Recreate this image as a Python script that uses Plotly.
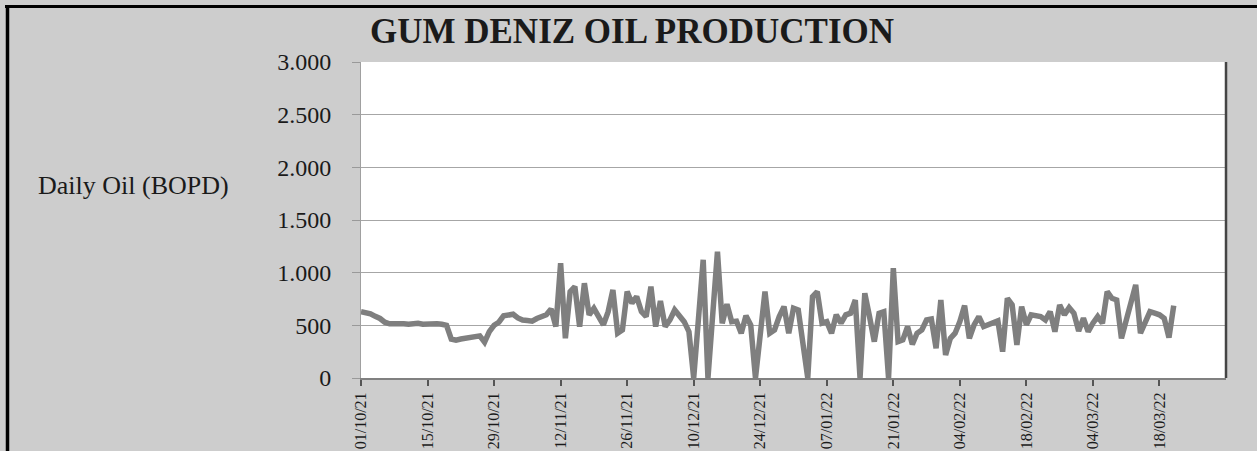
import plotly.graph_objects as go
import pandas as pd

title_text = "GUM DENIZ OIL PRODUCTION"
y_label = "Daily Oil (BOPD)"
start_date = "2021-10-01"

oil_bopd = [
    630, 625, 610, 585, 565, 530, 515, 515, 520, 515,
    510, 515, 520, 510, 515, 520, 515, 510, 500, 370,
    360, 370, 375, 385, 390, 400, 340, 440, 500, 530,
    590, 600, 605, 570, 550, 545, 540, 565, 583, 600,
    655, 488, 1090, 377, 820, 868, 488, 900, 600, 662,
    583, 504, 630, 836, 425, 456, 820, 710, 773, 630,
    583, 868, 488, 732, 488, 551, 646, 583, 535, 440,
    0, 560, 1122, 0, 600, 1200, 520, 700, 535, 540,
    425, 592, 504, 0, 410, 820, 425, 456, 583, 678,
    425, 662, 646, 320, 0, 773, 820, 520, 535, 425,
    600, 520, 600, 615, 740, 0, 805, 583, 345, 615,
    630, 0, 1043, 345, 361, 488, 320, 425, 456, 551,
    560, 282, 741, 219, 377, 425, 535, 687, 377, 504,
    583, 488, 504, 520, 542, 250, 757, 694, 314, 678,
    504, 600, 590, 583, 551, 630, 440, 694, 600, 668,
    615, 447, 567, 440, 520, 583, 520, 820, 757, 741,
    377, 535, 694, 884, 425, 520, 630, 615, 600, 567,
    383, 687,
]
dates = pd.date_range(start_date, periods=len(oil_bopd), freq="D")

tick_dates = pd.date_range("2021-10-01", "2022-03-18", freq="14D")
x_range = ["2021-10-01", "2022-04-01"]
y_ticks = [0, 500, 1000, 1500, 2000, 2500, 3000]

W, H = 1257, 451
L, R, T, B = 361, 1226, 62, 378

def px_x(px):
    return (px - L) / (R - L)

def px_y(py):
    return (B - py) / (B - T)

fig = go.Figure()
fig.add_trace(go.Scatter(
    x=dates, y=oil_bopd, mode="lines",
    line=dict(color="#7f7f7f", width=5.5),
    showlegend=False,
))

serif = "Liberation Serif, Times New Roman, serif"

fig.update_layout(
    width=W, height=H,
    margin=dict(l=L, r=W - R, t=T, b=H - B, pad=0, autoexpand=False),
    paper_bgcolor="#cdcdcd",
    plot_bgcolor="white",
    separators=",.",
    title=dict(text="<b>" + title_text + "</b>", x=632 / W, y=1 - 31 / H,
               xanchor="center", yanchor="middle", automargin=False,
               font=dict(family=serif, size=35, color="#1a1a1a")),
    xaxis=dict(
        type="date", range=x_range, automargin=False,
        tickvals=list(tick_dates), tickformat="%d/%m/%y", tickangle=-90,
        ticks="outside", ticklen=6, tickcolor="#555555", tickwidth=1.5,
        showgrid=False, showline=True, linecolor="#808080", linewidth=2,
        tickfont=dict(family=serif, size=16, color="#1a1a1a"),
        zeroline=False,
    ),
    yaxis=dict(
        range=[0, 3000], tickvals=y_ticks, tickformat=",d", automargin=False,
        ticks="outside", ticklen=8, tickcolor="#999999",
        showgrid=True, gridcolor="#a6a6a6", gridwidth=1,
        showline=True, linecolor="#a0a0a0", linewidth=1,
        tickfont=dict(family=serif, size=24, color="#1a1a1a"),
        ticklabelstandoff=16, zeroline=False,
    ),
    annotations=[dict(
        text=y_label, xref="paper", yref="paper",
        x=px_x(36), y=px_y(185), xanchor="left", yanchor="middle",
        showarrow=False, font=dict(family=serif, size=26, color="#1a1a1a"),
    )],
    shapes=[
        dict(type="line", xref="paper", yref="paper",
             x0=1.0, x1=1.0, y0=0, y1=1,
             line=dict(color="#444444", width=2.5)),
        dict(type="line", xref="paper", yref="paper",
             x0=px_x(7.5), x1=px_x(7.5), y0=px_y(5), y1=px_y(460),
             line=dict(color="black", width=3.5)),
        dict(type="line", xref="paper", yref="paper",
             x0=px_x(5), x1=px_x(1262), y0=px_y(6.5), y1=px_y(6.5),
             line=dict(color="black", width=3)),
    ],
)

fig.write_html(
    "out.html",
    config={"displayModeBar": False},
    post_script="document.body.style.margin='0';document.body.style.padding='0';",
)
